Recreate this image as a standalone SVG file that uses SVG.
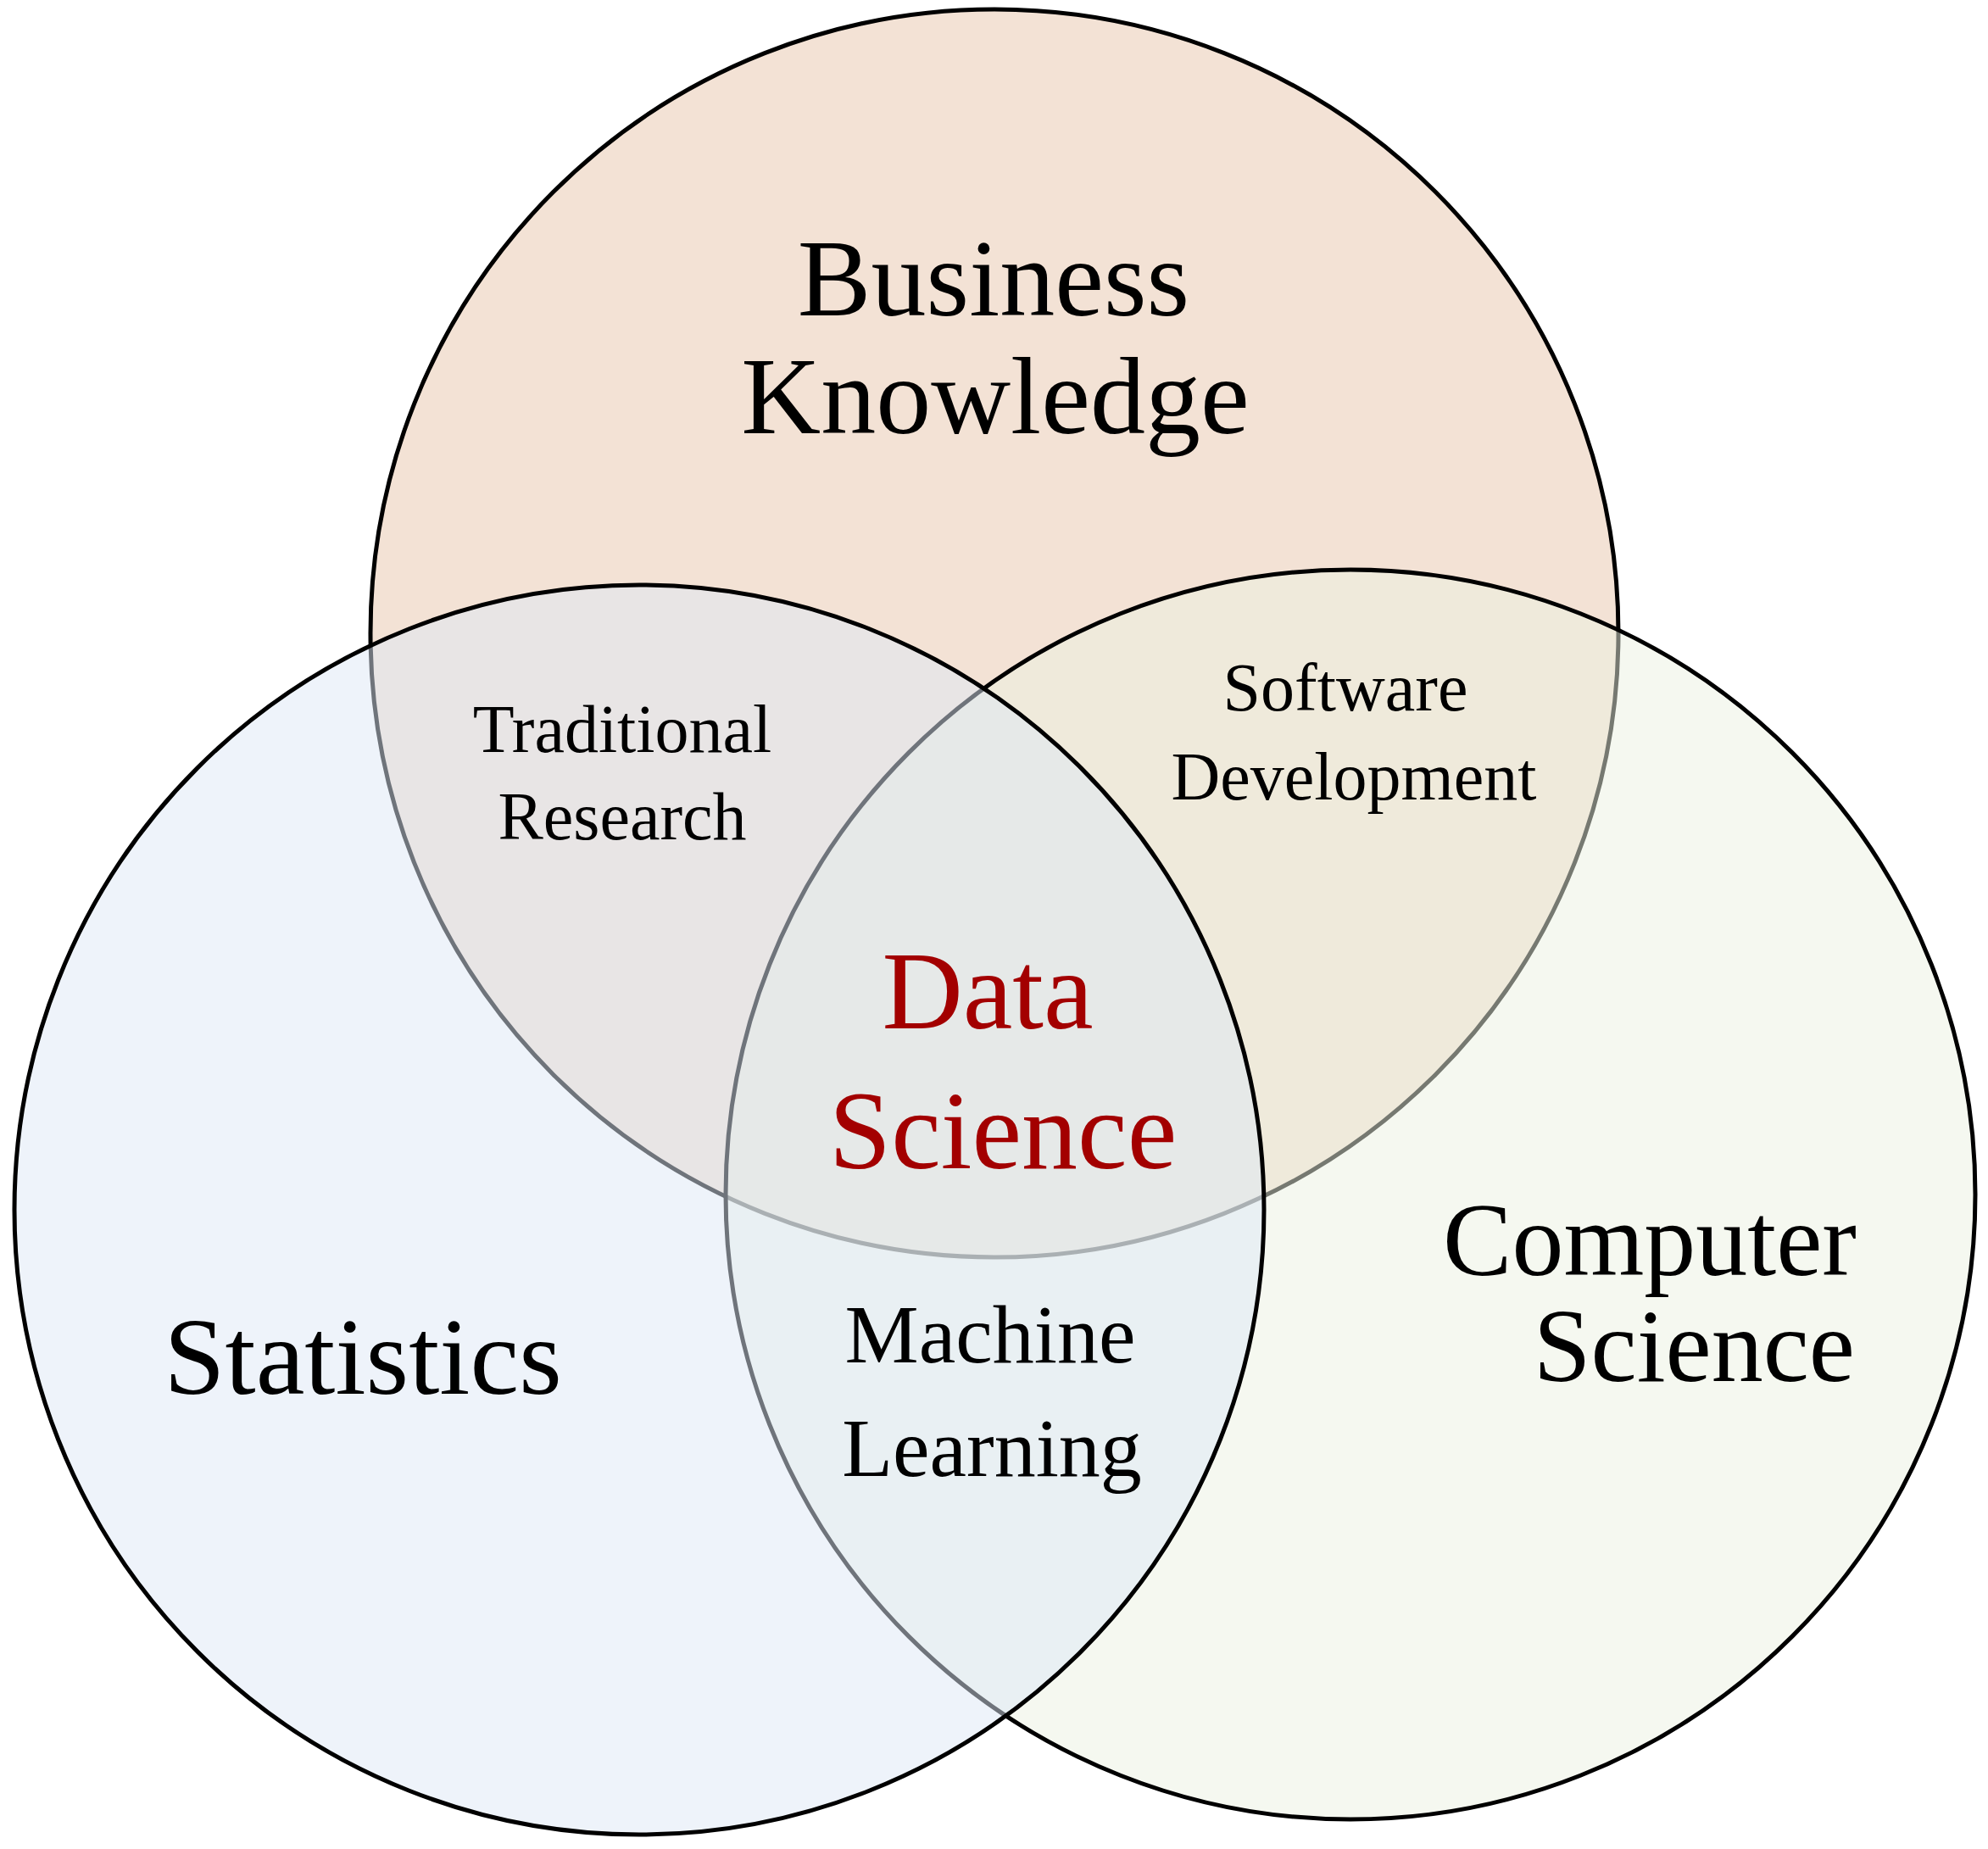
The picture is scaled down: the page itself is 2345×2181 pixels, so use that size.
<svg xmlns="http://www.w3.org/2000/svg" width="2345" height="2181" viewBox="0 0 2345 2181">
  <style>
    .circle { stroke: #000000; stroke-width: 5; }
    .lbl { font-family: "Liberation Serif", "DejaVu Serif", serif; fill: #000000; text-anchor: middle; }
    .big { font-size: 130px; }
    .mid { font-size: 98px; }
    .small { font-size: 80px; }
    .cs { text-anchor: end; font-size: 122px; }
    .ds { fill: #A30000; font-size: 132px; }
  </style>
  <rect x="0" y="0" width="2345" height="2181" fill="#FFFFFF"/>
  <g id="business-knowledge">
    <circle class="circle" cx="1173" cy="747" r="736" fill="#F3E2D5"/>
    <text class="lbl big" x="1172" y="372">Business</text>
    <text class="lbl big" x="1174" y="511">Knowledge</text>
  </g>
  <g id="computer-science">
    <circle class="circle" cx="1593" cy="1409" r="737" fill="#EBF1E2" fill-opacity="0.5"/>
    <text class="lbl cs" x="2190" y="1504">Computer</text>
    <text class="lbl cs" x="2188" y="1629">Science</text>
  </g>
  <g id="statistics">
    <circle class="circle" cx="754" cy="1427" r="737" fill="#DDE7F5" fill-opacity="0.5"/>
    <text class="lbl big" x="428" y="1644">Statistics</text>
  </g>
  <g id="traditional-research">
    <text class="lbl small" x="734" y="887">Traditional</text>
    <text class="lbl small" x="734" y="990">Research</text>
  </g>
  <g id="software-development">
    <text class="lbl small" x="1587" y="838">Software</text>
    <text class="lbl small" x="1597" y="943">Development</text>
  </g>
  <g id="machine-learning">
    <text class="lbl mid" x="1168" y="1607">Machine</text>
    <text class="lbl mid" x="1170" y="1741">Learning</text>
  </g>
  <g id="data-science">
    <text class="lbl ds" x="1165" y="1213">Data</text>
    <text class="lbl ds" x="1183" y="1378">Science</text>
  </g>
  <g id="connectors"></g>
</svg>
